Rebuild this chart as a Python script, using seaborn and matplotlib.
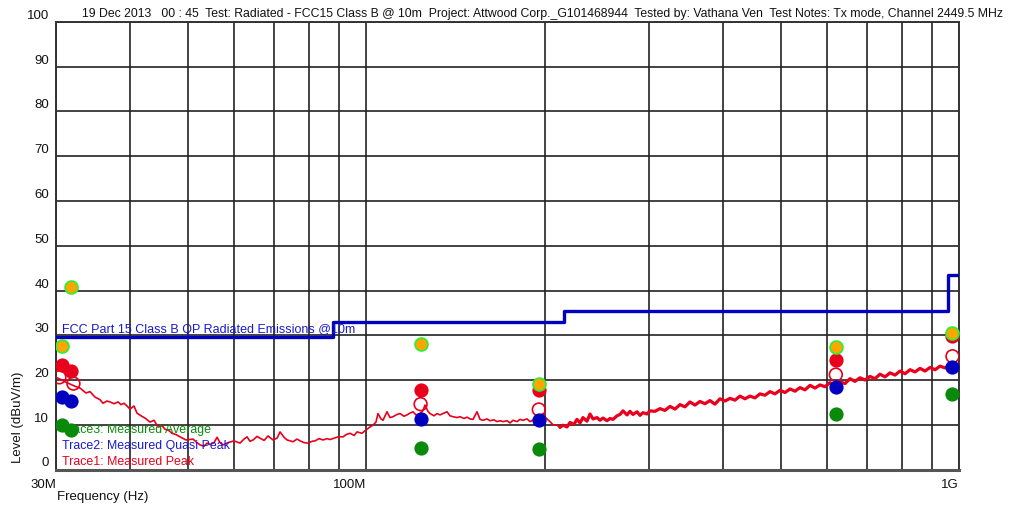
import matplotlib
matplotlib.use("Agg")
import matplotlib.pyplot as plt
import seaborn as sns
import pandas as pd
from matplotlib.ticker import FixedLocator, NullFormatter

# ---------------- data ----------------
title_text = ("19 Dec 2013   00 : 45  Test: Radiated - FCC15 Class B @ 10m  "
              "Project: Attwood Corp._G101468944  Tested by: Vathana Ven  "
              "Test Notes: Tx mode, Channel 2449.5 MHz")

# peak sweep (MHz, dBuV/m)
trace_freq = [30.00, 30.47, 31.19, 31.68, 32.30, 32.93, 33.70, 34.23, 34.90, 35.59,
              36.01, 36.57, 37.00, 37.58, 38.17, 38.61, 39.07, 39.52, 39.99, 40.61,
              41.09, 41.73, 42.39, 43.22, 43.90, 44.58, 45.28, 45.81, 46.52, 47.07,
              47.81, 48.56, 49.70, 51.07, 51.87, 52.48, 53.30, 53.93, 54.56, 55.42,
              56.07, 56.72, 57.39, 58.51, 59.89, 61.30, 62.26, 62.99, 63.73, 64.48,
              65.49, 66.26, 67.30, 68.35, 69.69, 70.78, 71.61, 72.74, 73.59, 75.32,
              76.50, 77.40, 78.61, 79.84, 81.09, 82.04, 83.33, 84.63, 85.96, 86.96,
              88.33, 89.71, 91.47, 92.54, 93.99, 95.46, 96.58, 98.43, 100.36, 101.54,
              102.73, 103.93, 104.74, 105.97, 106.80, 108.47, 109.74, 111.03, 112.77, 114.09,
              115.88, 117.24, 118.61, 120.00, 121.41, 123.31, 124.75, 125.73, 127.20, 128.19,
              130.20, 131.73, 133.27, 134.83, 136.94, 138.55, 140.17, 142.37, 144.04, 146.29,
              148.01, 149.74, 151.50, 153.87, 155.67, 157.50, 159.97, 161.84, 164.37, 166.30,
              168.25, 170.22, 172.89, 174.91, 176.96, 179.74, 181.84, 183.97, 186.86, 189.05,
              191.96, 194.21, 196.49, 198.79, 201.12, 204.27, 206.66, 209.90, 212.36, 214.85,
              218.21, 220.77, 224.23, 226.85, 229.51, 232.20, 235.84, 238.61, 241.40, 245.18,
              248.06, 250.96, 254.89, 257.88, 260.90, 264.99, 268.09, 271.23, 275.48, 278.71,
              281.98, 286.39, 289.75, 293.14, 297.71, 301.2, 307.1, 313.1, 319.2, 325.5,
              331.9, 338.4, 345.0, 351.8, 358.7, 365.7, 372.9, 380.2, 387.6, 395.2,
              403.0, 410.9, 419.0, 427.2, 435.6, 444.1, 452.8, 461.7, 470.8, 480.0,
              489.4, 499.0, 508.8, 518.8, 528.9, 539.3, 549.9, 560.7, 571.7, 582.9,
              594.3, 605.9, 617.8, 629.9, 642.3, 654.9, 667.7, 680.8, 694.2, 707.8,
              721.7, 735.8, 750.3, 765.0, 780.0, 795.3, 810.9, 826.8, 843.0, 859.5,
              876.4, 893.6, 911.1, 929.0, 947.2, 965.8, 984.7, 1000.0]
trace_level = [20.6, 20.2, 19.5, 19.1, 18.6, 18.2, 17.1, 17.4, 16.2, 15.6,
               14.8, 15.3, 15.1, 14.7, 15.1, 14.5, 14.8, 14.2, 13.5, 14.2,
               12.6, 12.0, 11.5, 10.6, 11.0, 9.5, 9.8, 9.0, 8.7, 8.1,
               7.8, 7.3, 6.6, 6.8, 6.0, 5.5, 5.2, 5.9, 5.6, 6.0,
               7.2, 6.0, 5.5, 6.0, 6.4, 5.9, 6.8, 7.3, 6.3, 6.6,
               7.4, 7.0, 6.5, 7.5, 6.6, 7.0, 8.4, 7.2, 6.6, 6.2,
               6.8, 6.4, 6.0, 5.9, 6.3, 6.4, 6.9, 6.6, 6.9, 6.7,
               7.0, 7.3, 7.3, 7.8, 8.1, 7.6, 8.4, 8.1, 9.0, 9.5,
               9.9, 10.6, 12.5, 11.3, 11.0, 12.9, 11.6, 11.8, 12.3, 12.5,
               11.9, 12.2, 12.6, 12.9, 12.2, 12.5, 13.2, 14.4, 13.0, 12.5,
               12.0, 12.5, 12.2, 12.5, 12.9, 12.0, 11.8, 11.6, 11.8, 11.4,
               11.7, 11.3, 11.2, 12.9, 11.2, 11.0, 11.3, 10.9, 11.1, 10.7,
               10.9, 10.7, 10.9, 10.4, 11.0, 10.7, 11.2, 11.0, 11.3, 10.7,
               11.2, 11.4, 11.8, 12.5, 11.5, 10.7, 10.0, 9.9, 9.4, 9.9,
               9.5, 10.5, 10.1, 11.2, 10.4, 11.6, 10.8, 12.4, 11.3, 11.6,
               11.0, 11.5, 10.9, 11.4, 11.2, 12.0, 12.3, 13.1, 12.2, 13.0,
               12.3, 12.9, 12.1, 12.7, 12.4, 13.1, 13.0, 13.6, 13.2, 14.1,
               13.5, 14.5, 14.0, 15.1, 14.4, 15.2, 14.7, 15.4, 14.6, 15.8,
               15.3, 15.9, 15.5, 16.4, 15.8, 16.4, 16.0, 16.9, 16.6, 17.4,
               16.9, 17.7, 17.2, 18.0, 17.5, 18.3, 17.8, 18.8, 18.2, 18.9,
               18.5, 19.4, 18.9, 19.6, 19.2, 20.3, 19.7, 20.5, 20.0, 20.8,
               20.3, 21.3, 20.7, 21.6, 21.1, 22.0, 21.4, 22.3, 21.8, 22.6,
               22.0, 22.8, 22.3, 23.1, 22.7, 23.5, 23.0, 23.5]

# FCC Part 15 Class B limit (MHz edges, dBuV/m)
limit_edges = [30, 88, 216, 960, 1000]
limit_levels = [29.5, 33.0, 35.5, 43.5]
limit_label = "FCC Part 15 Class B QP Radiated Emissions @10m"

# final measurement points
meas_freq = [30.74, 31.85, 123.6, 195.6, 619.8, 975.0]
meas_open_freq = [30.4, 32.1, 123.6, 195.6, 619.8, 975.0]
meas_orange = [27.6, 40.8, 28.0, 19.1, 27.3, 30.4]
meas_red = [23.3, 22.0, 17.7, 17.7, 24.4, 29.8]
meas_open = [20.6, 19.2, 14.6, 13.4, 21.2, 25.3]
meas_qp = [16.2, 15.4, 11.3, 11.0, 18.5, 22.9]
meas_avg = [9.9, 8.8, 4.7, 4.5, 12.5, 16.9]

legend_lines = ["Trace3: Measured Average", "Trace2: Measured Quasi Peak",
                "Trace1: Measured Peak"]

x_major = [30, 100, 1000]
x_major_labels = ["30M", "100M", "1G"]
x_minor = [40, 50, 60, 70, 80, 90, 200, 300, 400, 500, 600, 700, 800, 900]
y_ticks = list(range(0, 101, 10))

# ---------------- style ----------------
sns.set_theme(style="white")
plt.rcParams["font.family"] = ["Liberation Sans", "DejaVu Sans"]

RED = "#e8001c"
BLUE = "#0000c0"
GREEN = "#0a8a0a"
ORANGE = "#ffa500"
LIME = "#33ee33"

fig = plt.figure(figsize=(10.28, 5.08), dpi=100)
ax = fig.add_axes([56 / 1028, 1 - 469.5 / 508, (959 - 56) / 1028, (469.5 - 22) / 508])

ax.set_xscale("log")
ax.set_xlim(30, 1000)
ax.set_ylim(0, 100)

# grid
ax.xaxis.set_major_locator(FixedLocator(x_major))
ax.xaxis.set_minor_locator(FixedLocator(x_minor))
ax.xaxis.set_minor_formatter(NullFormatter())
ax.set_xticklabels(x_major_labels)
ax.set_yticks(y_ticks)
ax.grid(True, which="both", axis="both", color="#222222", linewidth=1.2)
ax.set_axisbelow(True)
ax.tick_params(axis="both", which="both", length=0, labelsize=9.5, colors="#111111")
ax.tick_params(axis="x", pad=7)
ax.tick_params(axis="y", pad=5)
for t in ax.get_xticklabels():
    t.set_ha("right")
for t in ax.get_yticklabels():
    t.set_va("bottom")
for s in ax.spines.values():
    s.set_color("#333333")
    s.set_linewidth(1.4)
ax.spines["bottom"].set_color("#555555")
ax.spines["bottom"].set_linewidth(2.2)

# trace
trace_df = pd.DataFrame({"freq": trace_freq, "level": trace_level})
sns.lineplot(data=trace_df, x="freq", y="level", sort=False, color=RED,
             linewidth=1.2, ax=ax, zorder=3)
# denser, noisier part of the sweep is drawn as a thicker band
hi_df = trace_df[trace_df["freq"] >= 212]
sns.lineplot(data=hi_df, x="freq", y="level", sort=False, color=RED,
             linewidth=2.3, ax=ax, zorder=3)

# limit line
lim_x = limit_edges
lim_y = limit_levels + [limit_levels[-1]]
ax.step(lim_x, lim_y, where="post", color=BLUE, linewidth=2.4, zorder=4)
ax.text(30.75, limit_levels[0] + 0.25, limit_label, color="#1a1acc",
        fontsize=9.0, ha="left", va="bottom", zorder=4)

# legend texts
for i, (txt, col) in enumerate(zip(legend_lines, [GREEN, "#1a1acc", RED])):
    ax.text(0.0067, 0.088 - i * 0.0355, txt, color=col,
            fontsize=8.9, ha="left", va="center", transform=ax.transAxes, zorder=4)

# markers
sns.scatterplot(x=meas_open_freq, y=meas_open, ax=ax, s=85, facecolor="none",
                edgecolor=RED, linewidth=1.2, zorder=5)
sns.scatterplot(x=meas_freq, y=meas_red, ax=ax, s=105, color=RED,
                edgecolor=RED, linewidth=0, zorder=6)
sns.scatterplot(x=meas_freq, y=meas_qp, ax=ax, s=105, color=BLUE,
                edgecolor=BLUE, linewidth=0, zorder=6)
sns.scatterplot(x=meas_freq, y=meas_avg, ax=ax, s=105, color=GREEN,
                edgecolor=GREEN, linewidth=0, zorder=6)
sns.scatterplot(x=meas_freq, y=meas_orange, ax=ax, s=85, color=ORANGE,
                edgecolor=LIME, linewidth=1.3, zorder=7)

ax.set_xlabel("")
ax.set_ylabel("")

fig.text(82 / 1028, 1 - 14 / 508, title_text, fontsize=8.85, ha="left",
         va="center", color="#111111")
fig.text(57 / 1028, 1 - 497 / 508, "Frequency (Hz)", fontsize=9.5, ha="left",
         va="center", color="#111111")
fig.text(18 / 1028, 1 - 417 / 508, "Level (dBuV/m)", fontsize=9.5, ha="center",
         va="center", rotation=90, color="#111111")

fig.savefig("out.png", dpi=100)
